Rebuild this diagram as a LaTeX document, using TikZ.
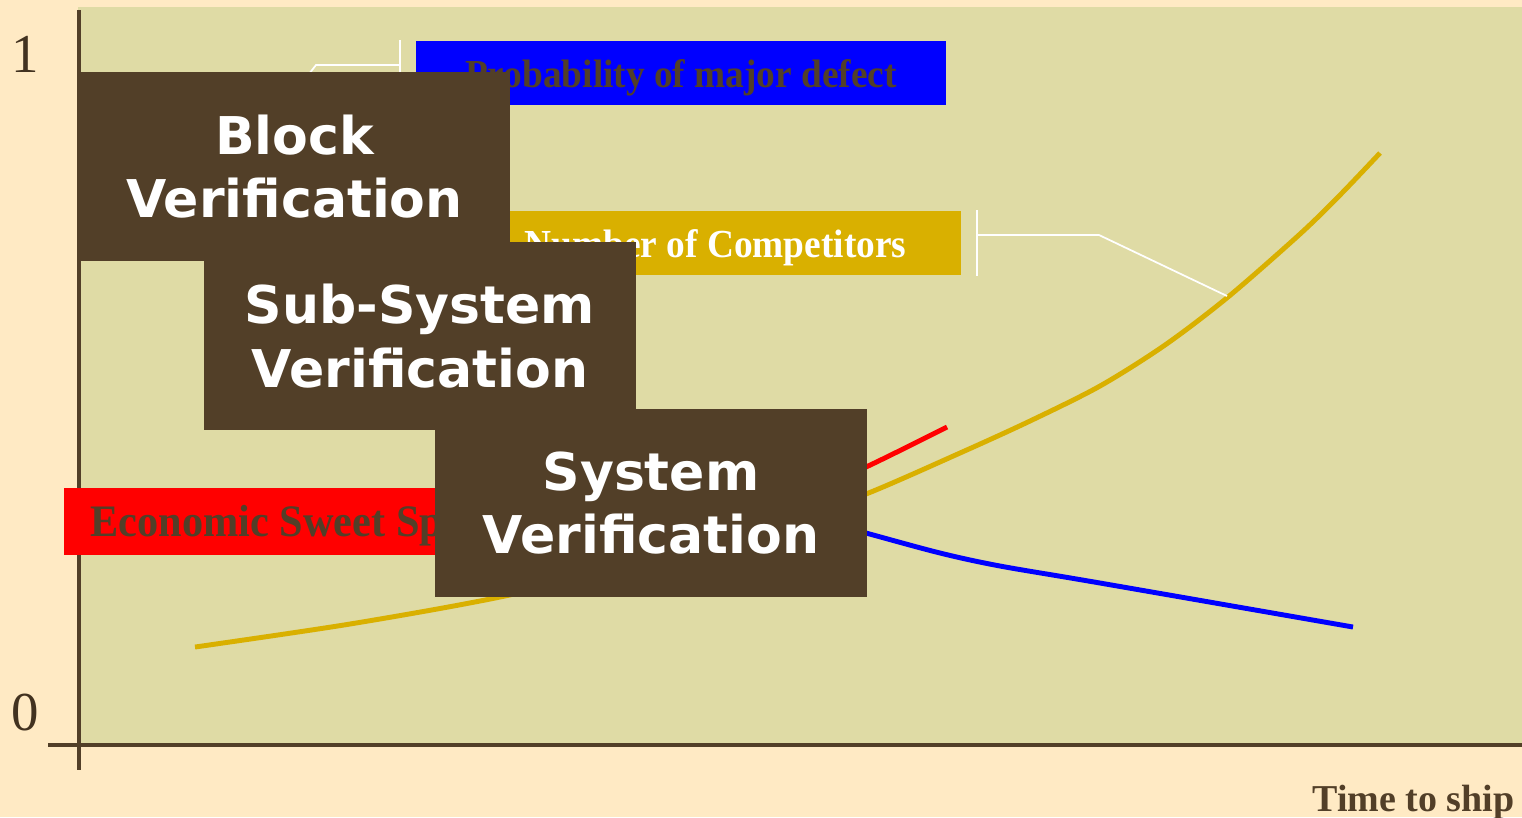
\documentclass[tikz,border=0pt]{standalone}
\usepackage{fontspec}
\setmainfont{Liberation Serif}
\newfontfamily\tagfont{Liberation Serif}[FakeStretch=0.94]
\newfontfamily\boxfont{DejaVu Sans}
\usepackage{tikz}
\usetikzlibrary{positioning, calc}
\usepackage{xcolor}
\definecolor{cream}{HTML}{FFEAC4}
\definecolor{khaki}{HTML}{DFDBA5}
\definecolor{bark}{HTML}{523F28}
\definecolor{gold}{HTML}{D9B000}

\begin{document}
\begin{tikzpicture}[x=0.01cm, y=-0.01cm,
    stage/.style={fill=bark, text=white, align=center, inner sep=0pt,
        font=\boxfont\bfseries\fontsize{14.8}{18.1}\selectfont,
        minimum width=4.31cm, minimum height=1.88cm},
    tag/.style={font=\tagfont\bfseries\fontsize{11.3}{13}\selectfont,
        inner sep=0pt, minimum height=0.64cm, text height=2ex, text depth=0.2ex},
    callout/.style={white, line width=0.5pt},
    curve/.style={line width=1.4pt}]
            \useasboundingbox (0,0) rectangle (1522,817);
            \fill[cream] (0,0) rectangle (1522,817);
            \fill[khaki] (78,7) rectangle (1522,745);

            % axes
            \coordinate (O) at (79,745);
            \draw[bark, line width=1pt] ($(O)+(0,-735)$) -- ($(O)+(0,25)$);
            \draw[bark, line width=1.4pt] ($(O)+(-31,0)$) -- (1522,745);
            \node[anchor=base, text=bark!80!black, font=\fontsize{15.6}{18}\selectfont] (one) at (25,72) {1};
            \node[anchor=base, text=bark!80!black, font=\fontsize{15.6}{18}\selectfont] (zero) at (25,730) {0};
            \node[anchor=base east, inner sep=0pt, text=bark, font=\bfseries\fontsize{10.8}{12}\selectfont] (tship) at (1515,811) {Time to ship};

            % curves
            \draw[curve, gold] plot[smooth] coordinates {(195,647) (350,624) (500,597) (650,562) (780,524) (866,494) (960,453) (1030,421) (1100,386) (1165,345) (1228,297) (1300,234) (1340,195) (1380,153)};
            \draw[curve, blue] plot[smooth] coordinates {(800,515) (866,533) (940,553) (1000,566) (1100,583) (1353,627)};
            \draw[curve, red] plot[smooth] coordinates {(800,495) (866,467) (947,427)};

            % labels
            \node[tag, fill=blue, text=bark, minimum width=5.30cm] (defect) at (681,73) {Probability of major defect};
            \node[tag, fill=gold, text=white, minimum width=4.91cm] (rivals) at (715.5,243) {Number of Competitors};
            \node[tag, fill=red, text=bark, anchor=west, inner xsep=0.27cm, minimum height=0.67cm,
                font=\tagfont\bfseries\fontsize{12.8}{15}\selectfont] (sweet) at (63,521.5) {Economic Sweet Spot};

            % callouts
            \draw[callout] ($(defect.north west)+(-15,0)$) -- ($(defect.south west)+(-15,0)$);
            \coordinate (dbend) at (316,65);
            \coordinate (dtip) at (250,150);
            \draw[callout] ($(defect.west)+(-15,-8)$) -- (dbend) -- (dtip);
            \draw[callout] ($(rivals.north east)+(15,0)$) -- ($(rivals.south east)+(15,0)$);
            \coordinate (rbend) at (1099,235);
            \coordinate (rtip) at (1227,296);
            \draw[callout] ($(rivals.east)+(15,-8)$) -- (rbend) -- (rtip);

            % stages
            \node[stage] (block) at (294.5,166.5) {Block\\Verification};
            \node[stage] (subsys) at (420,336) {Sub-System\\Verification};
            \node[stage] (system) at (651,503) {System\\Verification};
        \end{tikzpicture}
\end{document}
